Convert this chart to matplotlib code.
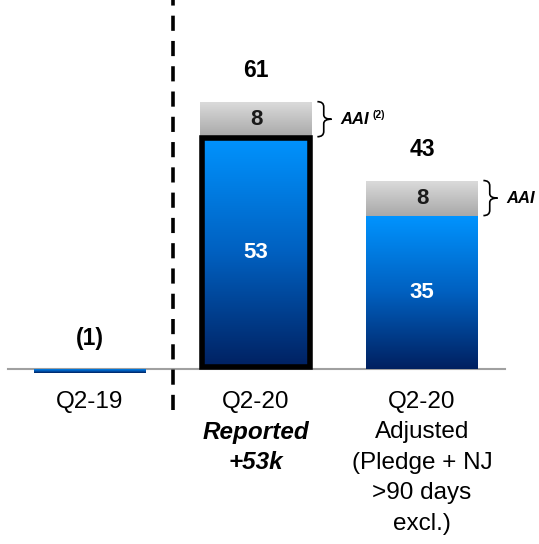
import matplotlib.pyplot as plt
import numpy as np
from matplotlib.patches import Rectangle, PathPatch
from matplotlib.path import Path
from matplotlib.colors import LinearSegmentedColormap

plt.rcParams['font.family'] = ['Liberation Sans', 'DejaVu Sans']

# Data
categories = ['Q2-19', 'Q2-20', 'Q2-20']
base_vals = [-1, 53, 35]
aai_vals = [0, 8, 8]
total_labels = ['(1)', '61', '43']
sub_labels = [[], [('Reported', 'bolditalic'), ('+53k', 'bolditalic')],
              [('Adjusted', 'normal'), ('(Pledge + NJ', 'normal'),
               ('>90 days', 'normal'), ('excl.)', 'normal')]]
aai_text = ['', 'AAI', 'AAI']
aai_sup = ['', '(2)', '']

fig = plt.figure(figsize=(5.39, 5.44), dpi=100)
ax = fig.add_axes([0, 0, 1, 1])
ax.set_xlim(-0.542, 2.705)
ax.set_ylim(-39.95, 84.2)
ax.axis('off')

blue_cmap = LinearSegmentedColormap.from_list('b', ['#002060', '#0060C0', '#0094FF'])
gray_cmap = LinearSegmentedColormap.from_list('g', ['#A8A8A8', '#DCDCDC'])
grad = np.linspace(0, 1, 256).reshape(-1, 1)

w = 0.67


def grad_bar(x0, y0, width, height, cmap):
    rect = Rectangle((x0, y0), width, height, facecolor='none', edgecolor='none')
    ax.add_patch(rect)
    im = ax.imshow(grad, cmap=cmap, aspect='auto', origin='lower',
                   extent=[x0, x0 + width, y0, y0 + height], zorder=2)
    im.set_clip_path(rect)


def brace(x0, y0, y1, width):
    ym = (y0 + y1) / 2
    xm = x0 + width * 0.45
    verts = [(x0, y1), (xm, y1), (xm, y1 - 1.2),
             (xm, ym + 1.0), (xm, ym), (x0 + width, ym),
             (xm, ym), (xm, ym - 1.0),
             (xm, y0 + 1.2), (xm, y0), (x0, y0)]
    codes = [Path.MOVETO, Path.CURVE3, Path.CURVE3,
             Path.LINETO, Path.CURVE3, Path.CURVE3,
             Path.CURVE3, Path.CURVE3,
             Path.LINETO, Path.CURVE3, Path.CURVE3]
    ax.add_patch(PathPatch(Path(verts, codes), facecolor='none',
                           edgecolor='black', lw=1.2, zorder=3))


for i, (b, a) in enumerate(zip(base_vals, aai_vals)):
    x0 = i - w / 2
    grad_bar(x0, min(b, 0), w, abs(b), blue_cmap)
    if a:
        grad_bar(x0, b, w, a, gray_cmap)
        ax.text(i, b + a / 2, str(a), ha='center', va='center',
                fontsize=16, fontweight='bold', color='#1a1a1a', zorder=4)
        ax.text(i, b / 2, str(b), ha='center', va='center',
                fontsize=16, fontweight='bold', color='white', zorder=4)
        # bracket + AAI label
        bx = x0 + w + 0.035
        brace(bx, b, b + a, 0.085)
        ax.text(bx + 0.14, b + a / 2, aai_text[i], ha='left', va='center',
                fontsize=12, fontweight='bold', style='italic')
        if aai_sup[i]:
            ax.text(bx + 0.33, b + a / 2 + 1.0, aai_sup[i], ha='left',
                    va='center', fontsize=7.5, fontweight='bold')
    top = b + a if b > 0 else 0
    ax.text(i, top + 7, total_labels[i], ha='center', va='center',
            fontsize=16.5, fontweight='bold', zorder=4)

# black outline on reported bar
ax.add_patch(Rectangle((1 - w / 2 + 0.012, 0.5), w - 0.024, base_vals[1] - 0.9,
                       facecolor='none', edgecolor='black', lw=4, zorder=3))

# baseline and separator
ax.plot([-0.494, 2.5], [0, 0], color='#a0a0a0', lw=1.5, zorder=1)
ax.plot([0.5, 0.5], [-9.4, 84.2], color='black', lw=2.6,
        linestyle=(0, (4.2, 2.8)), zorder=1)

# category labels
step = 6.96
for i, cat in enumerate(categories):
    ax.text(i, -7.5, cat, ha='center', va='center', fontsize=17.5)
    for j, (txt, st) in enumerate(sub_labels[i]):
        if st == 'bolditalic':
            ax.text(i, -7.5 - step * (j + 1), txt, ha='center', va='center',
                    fontsize=17.5, fontweight='bold', style='italic')
        else:
            ax.text(i, -7.5 - step * (j + 1), txt, ha='center', va='center',
                    fontsize=17.5)

fig.savefig('out.png', dpi=100)
